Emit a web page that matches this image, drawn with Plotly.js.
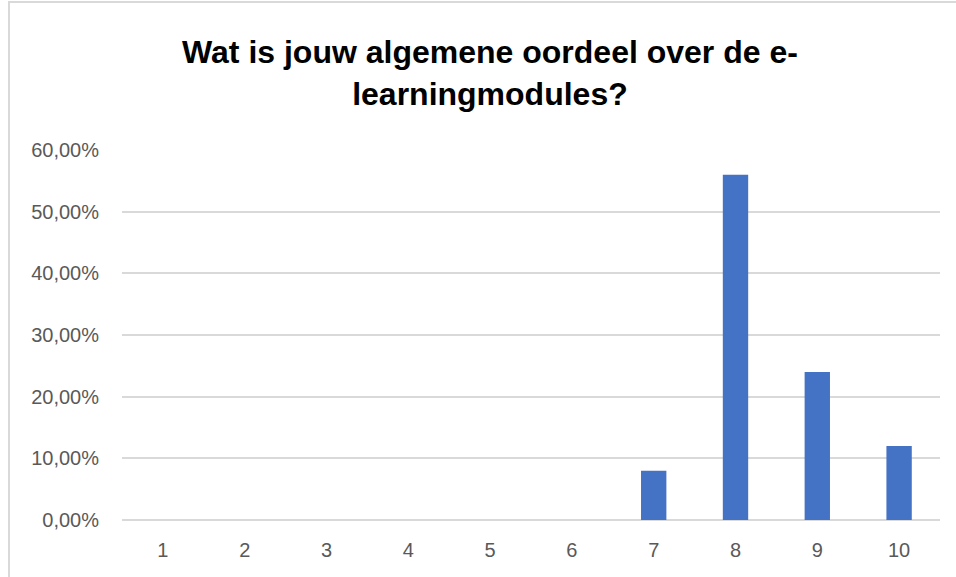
<!DOCTYPE html>
<html>
<head>
<meta charset="utf-8">
<script src="https://cdn.plot.ly/plotly-3.0.1.min.js"></script>
<style>
  body { margin: 0; background: #fff; overflow: hidden; }
  #frame { position: absolute; left: 8px; top: 1px; width: 1000px; height: 620px;
           border-left: 2px solid #d9d9d9; border-top: 2px solid #d9d9d9; }
  #chart { position: absolute; left: 0; top: 0; width: 956px; height: 577px; }
</style>
</head>
<body>
<div id="frame"></div>
<div id="chart"></div>
<script>
const categories = ['1', '2', '3', '4', '5', '6', '7', '8', '9', '10'];
const shares = [0, 0, 0, 0, 0, 0, 0.08, 0.56, 0.24, 0.12];
const titleText = 'Wat is jouw algemene oordeel over de e-<br>learningmodules?';

const data = [
  {
    type: 'bar',
    x: categories,
    y: shares,
    marker: { color: '#4472c4' },
    hoverinfo: 'x+y'
  }
];

const layout = {
  width: 956,
  height: 577,
  paper_bgcolor: 'rgba(0,0,0,0)',
  plot_bgcolor: 'rgba(0,0,0,0)',
  separators: ',.',
  margin: { l: 122, r: 16, t: 150, b: 57 },
  bargap: 0.69,
  showlegend: false,
  font: { family: 'Liberation Sans, Arial, sans-serif', size: 20, color: '#595959' },
  title: {
    text: '<b>' + titleText + '</b>',
    font: { family: 'Liberation Sans, Arial, sans-serif', size: 32, color: '#000' },
    xref: 'container',
    x: 0.5125,
    xanchor: 'center',
    yref: 'container',
    y: 0.89,
    yanchor: 'top'
  },
  xaxis: {
    type: 'category',
    showgrid: false,
    showline: false,
    zeroline: false,
    ticks: '',
    ticklabelstandoff: 16,
    tickfont: { size: 20, color: '#595959' }
  },
  yaxis: {
    range: [0, 0.6],
    dtick: 0.1,
    tickformat: '.2%',
    showgrid: true,
    gridcolor: '#d9d9d9',
    gridwidth: 2,
    zeroline: true,
    zerolinecolor: '#d9d9d9',
    zerolinewidth: 2,
    showline: false,
    ticks: '',
    ticklabelstandoff: 22,
    tickfont: { size: 20, color: '#595959' }
  }
};

Plotly.newPlot('chart', data, layout, { displayModeBar: false, staticPlot: true });
</script>
</body>
</html>
